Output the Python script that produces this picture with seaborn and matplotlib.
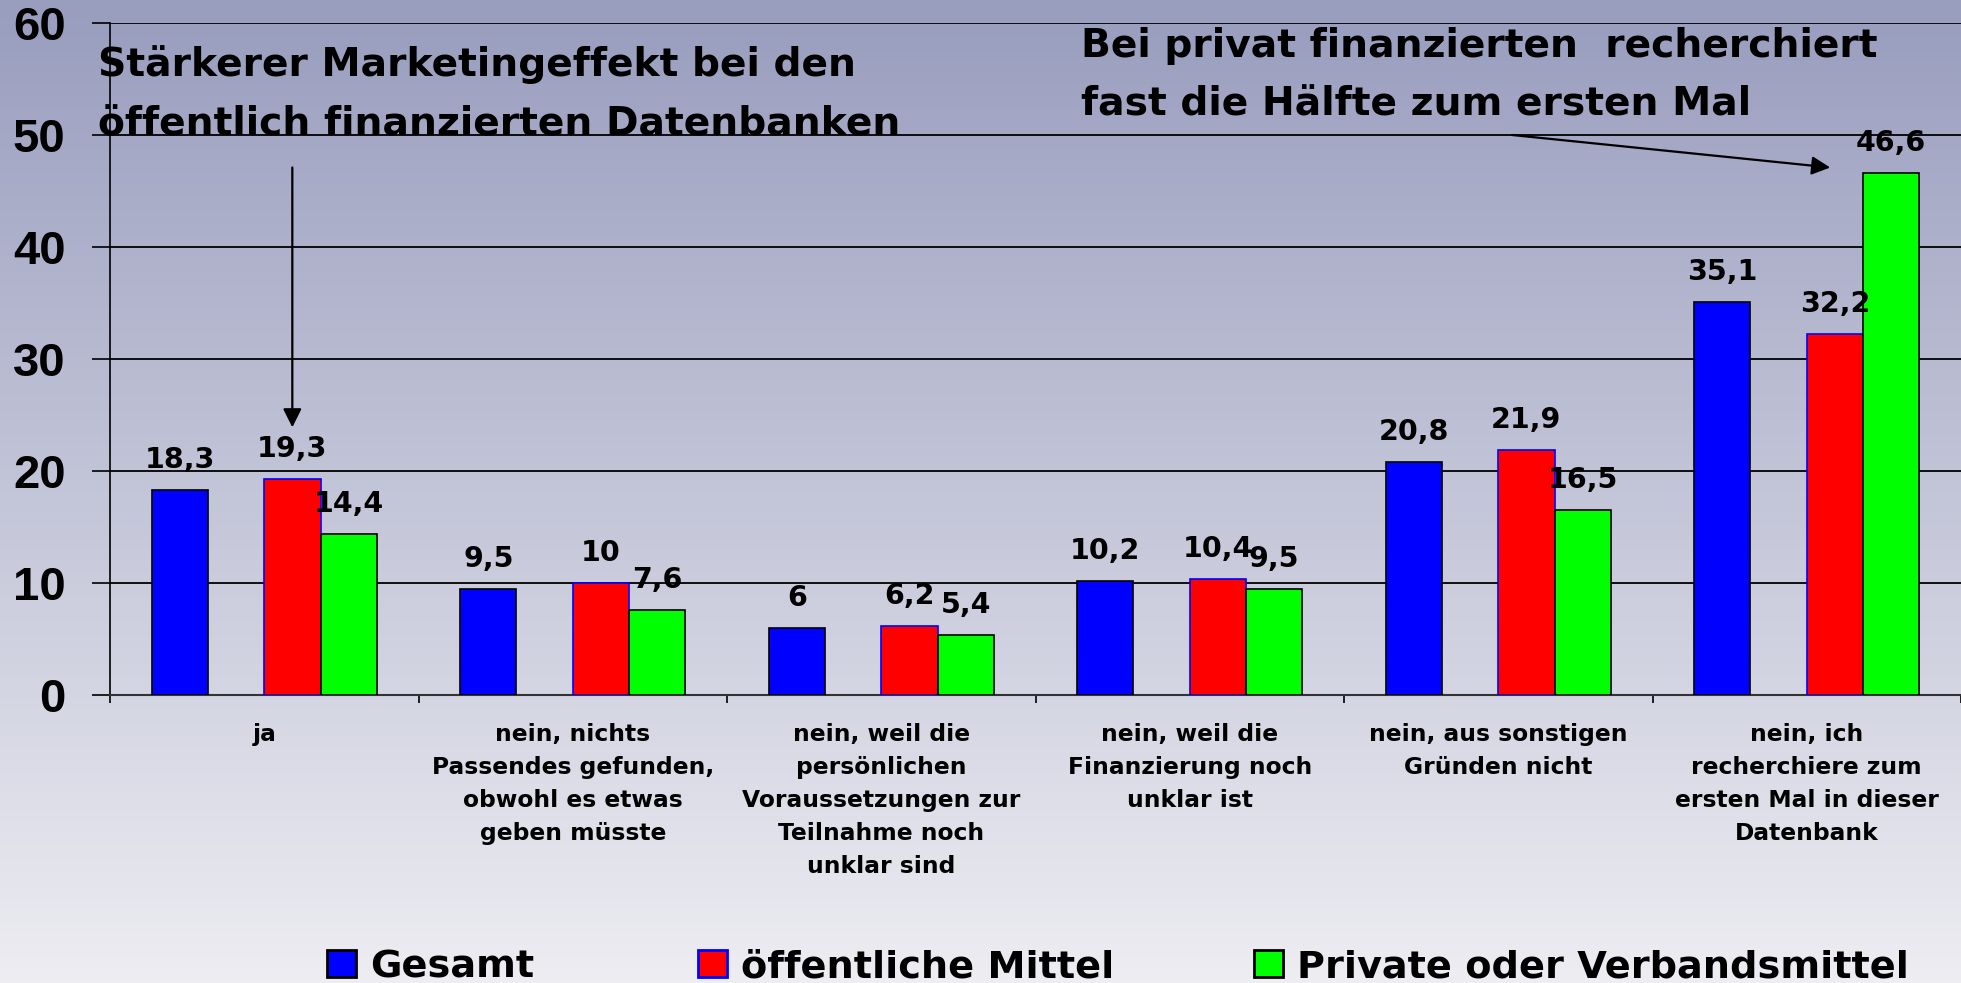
"""
Recherche-Umfrage: Grouped bar chart (Gesamt / öffentliche / private Mittel)
with gradient background and two call-out notes.
"""

import numpy as np
import pandas as pd
import matplotlib
matplotlib.use("Agg")
import matplotlib.pyplot as plt
from matplotlib.patches import Rectangle
from matplotlib.ticker import FixedLocator
import seaborn as sns

# ── data ──────────────────────────────────────────────────────────────────────
categories = [
    "ja",
    "nein, nichts\nPassendes gefunden,\nobwohl es etwas\ngeben müsste",
    "nein, weil die\npersönlichen\nVoraussetzungen zur\nTeilnahme noch\nunklar sind",
    "nein, weil die\nFinanzierung noch\nunklar ist",
    "nein, aus sonstigen\nGründen nicht",
    "nein, ich\nrecherchiere zum\nersten Mal in dieser\nDatenbank",
]
series      = ["Gesamt", "öffentliche Mittel", "Private oder Verbandsmittel"]
gesamt      = [18.3, 9.5, 6, 10.2, 20.8, 35.1]
oeffentlich = [19.3, 10, 6.2, 10.4, 21.9, 32.2]
privat      = [14.4, 7.6, 5.4, 9.5, 16.5, 46.6]
y_ticks     = [0, 10, 20, 30, 40, 50, 60]

note_left  = ["Stärkerer Marketingeffekt bei den",
              "öffentlich finanzierten Datenbanken"]
note_right = ["Bei privat finanzierten  recherchiert",
              "fast die Hälfte zum ersten Mal"]

# ── style ─────────────────────────────────────────────────────────────────────
BLUE, RED, GREEN = "#0000FF", "#FF0000", "#00FF00"
GAP = "_leer"                      # empty slot between Gesamt and the others
BG_TOP    = np.array([153, 157, 190]) / 255
BG_BOTTOM = np.array([237, 237, 242]) / 255
W, H = 1961, 983

plt.rcParams["font.family"] = ["DejaVu Sans"]

df = pd.DataFrame({
    "Kategorie": categories * 3,
    "Reihe": np.repeat(series, len(categories)),
    "Wert": gesamt + oeffentlich + privat,
})

fig = plt.figure(figsize=(W / 100, H / 100), dpi=100)

# gradient background over the whole slide
bg = fig.add_axes([0, 0, 1, 1], zorder=-1)
t = np.linspace(0, 1, 256)[:, None, None]
grad = BG_TOP * (1 - t) + BG_BOTTOM * t
bg.imshow(grad, aspect="auto", extent=(0, 1, 0, 1))
bg.axis("off")

ax = fig.add_axes([110 / W, 1 - 695 / H, 1 - 110 / W, 672 / H])
ax.patch.set_alpha(0)

sns.barplot(
    data=df, x="Kategorie", y="Wert", hue="Reihe",
    order=categories, hue_order=[series[0], GAP, series[1], series[2]],
    palette=[BLUE, "#FFFFFF", RED, GREEN], saturation=1,
    width=0.73, errorbar=None, edgecolor="black", linewidth=1.2,
    legend=False, ax=ax, zorder=3,
)

# red bars carry a blue outline in the original
for p in ax.patches:
    if np.allclose(p.get_facecolor()[:3], (1, 0, 0)):
        p.set_edgecolor(BLUE)

def fmt(v):
    return f"{v:g}".replace(".", ",")

for cont in ax.containers:
    ax.bar_label(cont, labels=[fmt(v) for v in cont.datavalues], padding=11.5,
                 fontsize=20.5, fontweight="bold", zorder=5)

# ── axes ──────────────────────────────────────────────────────────────────────
ax.set_ylim(0, 60)
ax.set_xlim(-0.5, len(categories) - 0.5)
ax.set_yticks(y_ticks, labels=[str(v) for v in y_ticks], fontsize=34,
              fontweight="bold", fontfamily="Liberation Sans")
ax.set_xticks(range(len(categories)), labels=categories, fontsize=16.8,
              fontweight="bold", linespacing=1.56)
ax.xaxis.set_minor_locator(FixedLocator(np.arange(-0.5, len(categories), 1)))
ax.tick_params(axis="x", which="major", length=0, pad=20)
ax.tick_params(axis="x", which="minor", length=6, width=1.2, color="black")
ax.tick_params(axis="y", length=13, width=1.2, pad=19, color="black")
ax.yaxis.grid(True, color="black", lw=1.3, zorder=1)
ax.set_axisbelow(True)
ax.set_xlabel("")
ax.set_ylabel("")
ax.spines[["top", "right"]].set_visible(False)
ax.spines["left"].set_linewidth(1.2)
ax.spines["bottom"].set_color("#333333")
ax.spines["bottom"].set_linewidth(1.5)

# ── notes & arrows ────────────────────────────────────────────────────────────
for txt, base in zip(note_left, [76, 135]):
    fig.text(98 / W, 1 - base / H, txt, fontsize=28.3, fontweight="bold",
             ha="left", va="baseline")
for txt, base in zip(note_right, [57, 115]):
    fig.text(1081 / W, 1 - base / H, txt, fontsize=28.3, fontweight="bold",
             ha="left", va="baseline")

arrow = dict(arrowstyle="-|>", color="black", lw=1.6, mutation_scale=28,
             shrinkA=0, shrinkB=0)
ax.annotate("", xy=(0.091, 23.9), xytext=(0.091, 47.1), arrowprops=arrow,
            annotation_clip=False)
ax.annotate("", xy=(5.076, 47.1), xytext=(4.045, 50.0), arrowprops=arrow,
            annotation_clip=False)

# ── legend (hand placed, bottom of slide) ─────────────────────────────────────
legend_items = [(series[0], BLUE, "black", 327),
                (series[1], RED, BLUE, 698),
                (series[2], GREEN, "black", 1254)]
for name, face, edge, x0 in legend_items:
    fig.add_artist(Rectangle((x0 / W, 1 - 977 / H), 29 / W, 27 / H,
                             facecolor=face, edgecolor=edge, lw=2,
                             transform=fig.transFigure))
    fig.text((x0 + 43) / W, 1 - 977 / H, name, fontsize=27.5,
             fontweight="bold", ha="left", va="baseline")

fig.savefig("out.png", dpi=100)
plt.close(fig)
